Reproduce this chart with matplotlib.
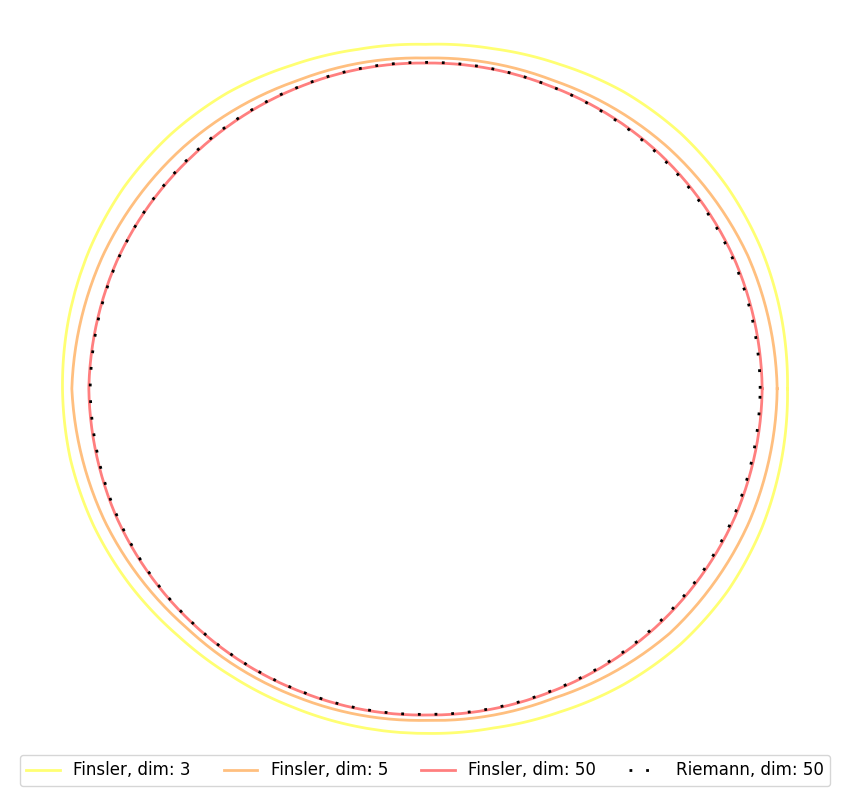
import numpy as np
import matplotlib
matplotlib.use("Agg")
import matplotlib.pyplot as plt

# Angles (degrees, counter-clockwise from east) at which radii were read
angles_deg = [0, 22.5, 45, 67.5, 90, 112.5, 135, 157.5,
              180, 202.5, 225, 247.5, 270, 292.5, 315, 337.5]
angles_dim3_deg = [0, 11.25, 22.5, 33.75, 45, 56.25, 67.5, 78.75,
                   90, 101.25, 112.5, 123.75, 135, 146.25, 157.5, 168.75,
                   180, 191.25, 202.5, 213.75, 225, 236.25, 247.5, 258.75,
                   270, 281.25, 292.5, 303.75, 315, 326.25, 337.5, 348.75]

# Radii of each closed curve at those angles
finsler_dim3 = [1.086, 1.089, 1.091, 1.089, 1.083, 1.071, 1.053, 1.040,
                1.033, 1.038, 1.050, 1.068, 1.080, 1.088, 1.091, 1.091,
                1.089, 1.086, 1.077, 1.064, 1.049, 1.040, 1.035, 1.034,
                1.034, 1.038, 1.050, 1.068, 1.083, 1.091, 1.092, 1.089]
finsler_dim5 = [1.055, 1.046, 1.026, 1.001, 0.992, 1.001, 1.026, 1.047,
                1.061, 1.041, 1.014, 1.002, 0.995, 1.005, 1.037, 1.050]
finsler_dim50 = [1.010, 1.005, 0.995, 0.982, 0.977, 0.981, 0.988, 1.002,
                 1.010, 1.004, 0.992, 0.983, 0.979, 0.984, 0.995, 1.005]
riemann_dim50 = [1.004, 1.001, 0.991, 0.982, 0.979, 0.982, 0.991, 1.001,
                 1.006, 1.001, 0.991, 0.982, 0.977, 0.982, 0.991, 1.001]

labels = ["Finsler, dim: 3", "Finsler, dim: 5", "Finsler, dim: 50", "Riemann, dim: 50"]

W, H, DPI = 850, 807, 100
fig = plt.figure(figsize=(W / DPI, H / DPI), dpi=DPI)

cx, cy = 425.5, 388.7     # centre in pixels (from top-left)
R = 400.0                 # axes radius in pixels
rmax = 1.2
ax = fig.add_axes([(cx - R) / W, (H - cy - R) / H, 2 * R / W, 2 * R / H],
                  projection="polar")
ax.set_ylim(0, rmax)
ax.set_axis_off()

def closed_theta(deg):
    t = np.deg2rad(list(deg) + [deg[0]])
    t[-1] += 2 * np.pi
    return t

def closed(vals):
    return list(vals) + [vals[0]]

cmap = plt.get_cmap("autumn")
lines = []
lines += ax.plot(closed_theta(angles_dim3_deg), closed(finsler_dim3), color=cmap(1.0),
                 alpha=0.55, lw=2, label=labels[0])
lines += ax.plot(closed_theta(angles_deg), closed(finsler_dim5), color=cmap(0.5),
                 alpha=0.5, lw=2, label=labels[1])
lines += ax.plot(closed_theta(angles_deg), closed(finsler_dim50), color=cmap(0.0),
                 alpha=0.5, lw=2, label=labels[2])
lines += ax.plot(closed_theta(angles_deg), closed(riemann_dim50), color="black", lw=2,
                 linestyle=(0, (1, 5)), label=labels[3])
# let the polar transform draw each segment as a smooth arc
for ln in lines:
    ln.get_path()._interpolation_steps = 40

fig.legend(loc="lower center", bbox_to_anchor=(0.5, 21 / H), borderaxespad=0,
           ncol=4, fontsize=12)

fig.savefig("out.png", dpi=DPI)
